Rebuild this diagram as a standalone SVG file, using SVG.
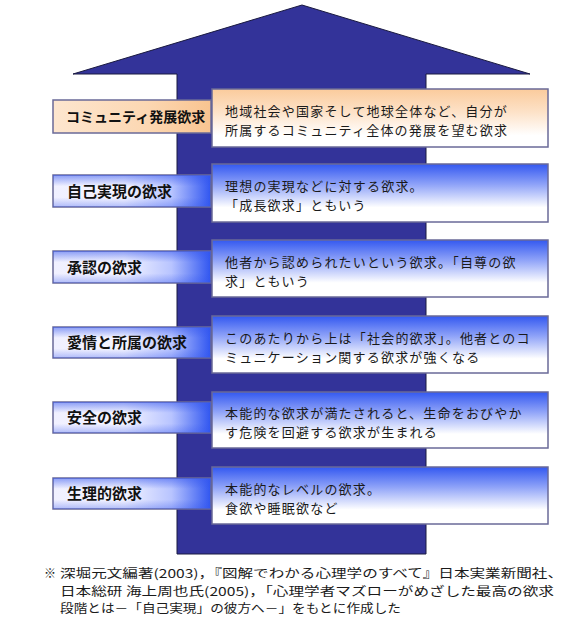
<svg xmlns="http://www.w3.org/2000/svg" width="583" height="640" viewBox="0 0 583 640">
<defs>
<linearGradient id="gLblBlue" x1="0" y1="0" x2="1" y2="0">
<stop offset="0" stop-color="#f0f0ff"/>
<stop offset="0.45" stop-color="#f4f4ff"/>
<stop offset="0.75" stop-color="#b8c4ff"/>
<stop offset="1" stop-color="#2f55f0"/>
</linearGradient>
<linearGradient id="gLblBlueV" x1="0" y1="0" x2="0" y2="1">
<stop offset="0" stop-color="#3355ee" stop-opacity="0.55"/>
<stop offset="0.35" stop-color="#3355ee" stop-opacity="0"/>
<stop offset="0.7" stop-color="#3355ee" stop-opacity="0"/>
<stop offset="1" stop-color="#3355ee" stop-opacity="0.35"/>
</linearGradient>
<linearGradient id="gDescBlue" x1="0" y1="0" x2="0" y2="1">
<stop offset="0" stop-color="#3358f0"/>
<stop offset="0.35" stop-color="#8ea2f8"/>
<stop offset="0.75" stop-color="#ffffff"/>
<stop offset="1" stop-color="#ffffff"/>
</linearGradient>
<linearGradient id="gLblOrange" x1="0" y1="0" x2="1" y2="0">
<stop offset="0" stop-color="#fde6cf"/>
<stop offset="0.6" stop-color="#fcd7b2"/>
<stop offset="1" stop-color="#f9c490"/>
</linearGradient>
<linearGradient id="gDescOrange" x1="0" y1="0" x2="0" y2="1">
<stop offset="0" stop-color="#fbcb9c"/>
<stop offset="0.4" stop-color="#fde2c8"/>
<stop offset="0.8" stop-color="#ffffff"/>
<stop offset="1" stop-color="#ffffff"/>
</linearGradient>
</defs>
<style>
.box{stroke:#6a6a98;stroke-width:1.5}
.lbl{font-family:"Noto Sans CJK JP","Noto Sans CJK SC",sans-serif;font-size:15px;font-weight:bold;fill:#111}
.desc{font-family:"Noto Sans CJK JP","Noto Sans CJK SC",sans-serif;font-size:13px;letter-spacing:1.2px;fill:#1a1a1a}
.note{font-family:"Noto Sans CJK JP","Noto Sans CJK SC",sans-serif;font-size:12px;fill:#1a1a1a}
</style>
<g id="arrow">
<path d="M302,5 L530,74 L426,74 L426,554 L177,554 L177,74 L73,74 Z" fill="#333399" stroke="#1a1a40" stroke-width="1"/>
</g>
<g id="connectors"/>
<g id="level-community">
<rect class="box" x="53" y="100" width="158" height="33" fill="url(#gLblOrange)"/>
<text class="lbl" x="66" y="122" style="font-size:14px">コミュニティ発展欲求</text>
<rect class="box" x="212" y="89" width="336" height="58" fill="url(#gDescOrange)"/>
<text class="desc" x="225" y="116">地域社会や国家そして地球全体など、自分が</text>
<text class="desc" x="225" y="135">所属するコミュニティ全体の発展を望む欲求</text>
</g>
<g id="level-self">
<rect class="box" x="53" y="175" width="158" height="32" fill="url(#gLblBlue)"/>
<rect x="53" y="175" width="158" height="32" fill="url(#gLblBlueV)"/>
<text class="lbl" x="67" y="197">自己実現の欲求</text>
<rect class="box" x="212" y="164" width="336" height="58" fill="url(#gDescBlue)"/>
<text class="desc" x="225" y="191">理想の実現などに対する欲求。</text>
<text class="desc" x="225" y="210">「成長欲求」ともいう</text>
</g>
<g id="level-esteem">
<rect class="box" x="53" y="251" width="158" height="32" fill="url(#gLblBlue)"/>
<rect x="53" y="251" width="158" height="32" fill="url(#gLblBlueV)"/>
<text class="lbl" x="67" y="273">承認の欲求</text>
<rect class="box" x="212" y="240" width="336" height="57" fill="url(#gDescBlue)"/>
<text class="desc" x="225" y="267">他者から認められたいという欲求。「自尊の欲</text>
<text class="desc" x="225" y="286">求」ともいう</text>
</g>
<g id="level-love">
<rect class="box" x="53" y="327" width="158" height="31" fill="url(#gLblBlue)"/>
<rect x="53" y="327" width="158" height="31" fill="url(#gLblBlueV)"/>
<text class="lbl" x="67" y="348">愛情と所属の欲求</text>
<rect class="box" x="212" y="316" width="336" height="57" fill="url(#gDescBlue)"/>
<text class="desc" x="225" y="343">このあたりから上は「社会的欲求」。他者とのコ</text>
<text class="desc" x="225" y="362">ミュニケーション関する欲求が強くなる</text>
</g>
<g id="level-safety">
<rect class="box" x="53" y="402" width="158" height="31" fill="url(#gLblBlue)"/>
<rect x="53" y="402" width="158" height="31" fill="url(#gLblBlueV)"/>
<text class="lbl" x="67" y="423">安全の欲求</text>
<rect class="box" x="212" y="392" width="336" height="56" fill="url(#gDescBlue)"/>
<text class="desc" x="225" y="418">本能的な欲求が満たされると、生命をおびやか</text>
<text class="desc" x="225" y="437">す危険を回避する欲求が生まれる</text>
</g>
<g id="level-physio">
<rect class="box" x="53" y="478" width="158" height="31" fill="url(#gLblBlue)"/>
<rect x="53" y="478" width="158" height="31" fill="url(#gLblBlueV)"/>
<text class="lbl" x="67" y="499">生理的欲求</text>
<rect class="box" x="212" y="467" width="336" height="57" fill="url(#gDescBlue)"/>
<text class="desc" x="225" y="494">本能的なレベルの欲求。</text>
<text class="desc" x="225" y="513">食欲や睡眠欲など</text>
</g>
<g id="footnote">
<text class="note" x="44" y="578">※</text>
<text class="note" x="60" y="578" textLength="503" lengthAdjust="spacingAndGlyphs">深堀元文編著(2003)，『図解でわかる心理学のすべて』日本実業新聞社、</text>
<text class="note" x="60" y="595.5" textLength="494" lengthAdjust="spacingAndGlyphs">日本総研 海上周也氏(2005)，「心理学者マズローがめざした最高の欲求</text>
<text class="note" x="60" y="613" textLength="341" lengthAdjust="spacingAndGlyphs">段階とは－「自己実現」の彼方へ－」をもとに作成した</text>
</g>
</svg>
